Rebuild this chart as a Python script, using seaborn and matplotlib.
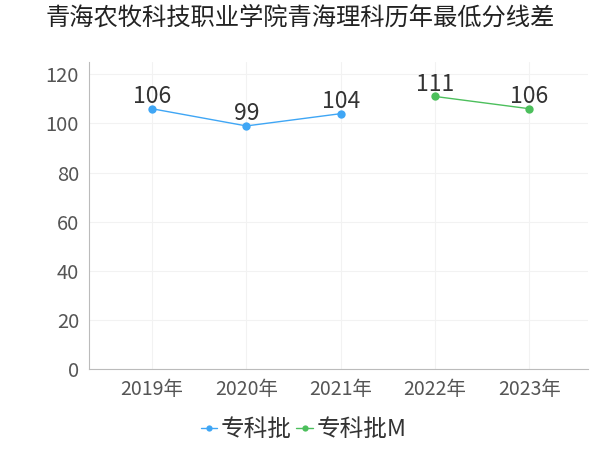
import pandas as pd
import numpy as np
import matplotlib.pyplot as plt
import seaborn as sns

years = ['2019年', '2020年', '2021年', '2022年', '2023年']
batch = ['专科批', '专科批', '专科批', '专科批M', '专科批M']
scores = [106, 99, 104, 111, 106]

data = pd.DataFrame({'year': years, 'batch': batch, 'score': scores})

sns.set_style('white')
plt.rcParams['font.family'] = ['Noto Sans CJK SC', 'DejaVu Sans']

colors = {'专科批': '#3fa6f5', '专科批M': '#4cbf5c'}

fig = plt.figure(figsize=(6, 4.5), dpi=100)
ax = fig.add_axes([0.148, 0.18, 0.832, 0.682])

sns.lineplot(data=data, x='year', y='score', hue='batch', palette=colors,
             marker='o', markersize=6, markeredgewidth=0, linewidth=1, ax=ax)

for x, y in zip(data['year'], data['score']):
    ax.text(x, y + 0.3, str(y), ha='center', va='bottom', fontsize=16.5, color='#333333')

ax.set_ylim(0, 125)
ax.set_xlim(-0.67, 4.62)
ax.set_yticks(range(0, 121, 20))
ax.grid(True, color='#f2f2f2', linewidth=0.8)
ax.set_xlabel('')
ax.set_ylabel('')
for s in ['top', 'right']:
    ax.spines[s].set_visible(False)
ax.spines['left'].set_color('#bbbbbb')
ax.spines['bottom'].set_color('#bbbbbb')
ax.tick_params(axis='x', labelsize=14, colors='#555555', length=4)
ax.tick_params(axis='y', labelsize=14.5, colors='#555555', length=0, pad=7)

ax.legend(loc='upper center', bbox_to_anchor=(0.43, -0.09), ncol=2, frameon=False,
          fontsize=17, handlelength=0.7, handletextpad=0.15, columnspacing=0.2,
          labelcolor='#333333', markerscale=0.75)

fig.suptitle('青海农牧科技职业学院青海理科历年最低分线差', fontsize=17.5, y=0.99, color='#222222')

plt.savefig('out.png', dpi=100, facecolor='white')
